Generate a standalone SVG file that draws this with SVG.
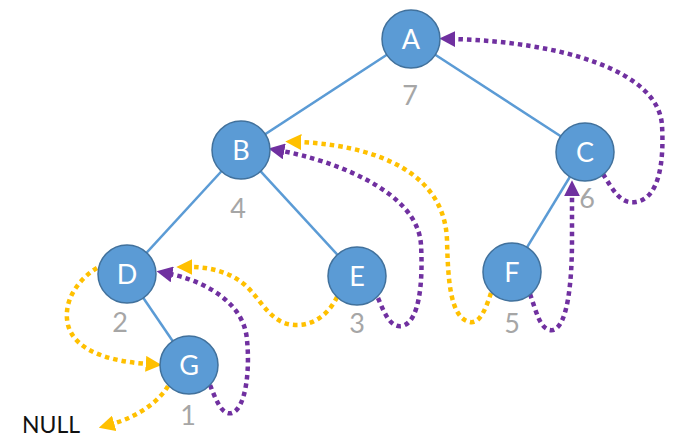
<svg xmlns="http://www.w3.org/2000/svg" width="676" height="442" viewBox="0 0 676 442">
<style>
.edge{stroke:#5B9BD5;stroke-width:2.5;fill:none}
.node circle{fill:#5B9BD5;stroke:#41719C;stroke-width:1.5}
.node text{fill:#fff;font-family:Lato,"Open Sans",sans-serif;font-size:27px;text-anchor:middle}
.num{fill:#A6A6A6;font-family:Lato,"Open Sans",sans-serif;font-size:27px;text-anchor:middle}
.p{stroke:#7030A0;stroke-width:4.5;stroke-dasharray:4.5 4;fill:none;marker-end:url(#ap)}
.g{stroke:#FFC000;stroke-width:4.5;stroke-dasharray:4.5 4;fill:none;marker-end:url(#ag)}
</style>
<defs>
<marker id="ap" markerUnits="userSpaceOnUse" markerWidth="16" markerHeight="16" refX="2" refY="7" orient="auto" viewBox="0 0 14 14"><path d="M0,0 L14,7 L0,14 Z" fill="#7030A0"/></marker>
<marker id="ag" markerUnits="userSpaceOnUse" markerWidth="16" markerHeight="16" refX="2" refY="7" orient="auto" viewBox="0 0 14 14"><path d="M0,0 L14,7 L0,14 Z" fill="#FFC000"/></marker>
</defs>
<g id="edges">
<line class="edge" x1="411" y1="39" x2="241" y2="150"/>
<line class="edge" x1="411" y1="39" x2="585" y2="152"/>
<line class="edge" x1="241" y1="150" x2="127" y2="274"/>
<line class="edge" x1="241" y1="150" x2="357" y2="276"/>
<line class="edge" x1="127" y1="274" x2="189" y2="365"/>
<line class="edge" x1="585" y1="152" x2="512" y2="272"/>
</g>
<g id="threads">
<path class="p" d="M210,385 C216,400 222,416 232,413 C246,408 250,370 247,340 C244,300 200,280 170,274"/>
<path class="p" d="M378,298 C384,312 390,328 402,326 C420,322 423,280 421,245 C418,190 330,160 282,151"/>
<path class="p" d="M530,294 C536,310 540,332 553,330 C568,326 572,280 572,240 L572,194"/>
<path class="p" d="M603,174 C612,188 620,205 636,202 C660,198 664,160 662,125 C658,70 560,42 453,39"/>
<path class="g" d="M97,268 C80,278 62,300 68,325 C76,355 120,362 148,364"/>
<path class="g" d="M168,386 C160,400 140,416 112,424"/>
<path class="g" d="M337,297 C330,312 315,326 295,325 C270,324 262,300 245,285 C230,272 210,267 190,267"/>
<path class="g" d="M491,293 C486,308 480,324 470,322 C450,318 448,280 447,240 C444,160 350,144 299,142"/>
</g>
<g id="A" class="node"><circle cx="411" cy="39" r="29"/><text x="411" y="49">A</text></g>
<g id="B" class="node"><circle cx="241" cy="150" r="29"/><text x="241" y="160">B</text></g>
<g id="C" class="node"><circle cx="585" cy="152" r="29"/><text x="585" y="162">C</text></g>
<g id="D" class="node"><circle cx="127" cy="274" r="29"/><text x="127" y="284">D</text></g>
<g id="E" class="node"><circle cx="357" cy="276" r="29"/><text x="357" y="286">E</text></g>
<g id="F" class="node"><circle cx="512" cy="272" r="29"/><text x="512" y="282">F</text></g>
<g id="G" class="node"><circle cx="189" cy="365" r="29"/><text x="189" y="375">G</text></g>
<g id="labels">
<text class="num" x="410" y="105">7</text>
<text class="num" x="238" y="218">4</text>
<text class="num" x="587" y="208">6</text>
<text class="num" x="120" y="332">2</text>
<text class="num" x="357" y="333">3</text>
<text class="num" x="512" y="333">5</text>
<text class="num" x="188" y="425">1</text>
<text x="22" y="433" fill="#111" font-family="Lato,'Open Sans',sans-serif" font-size="23">NULL</text>
</g>
</svg>
